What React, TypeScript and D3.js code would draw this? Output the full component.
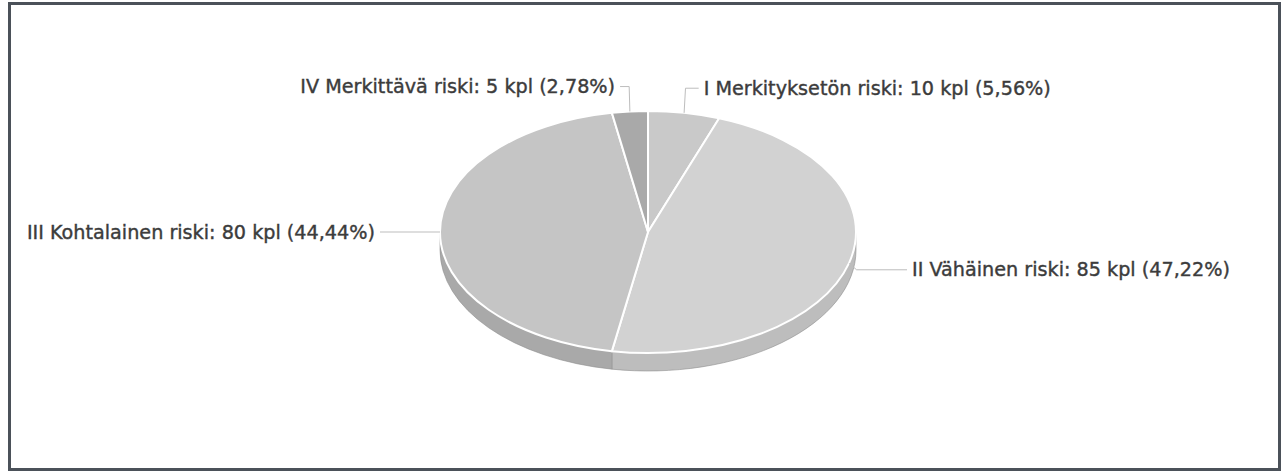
import React from "react";
import * as d3 from "d3";

// risk classes and their counts (kpl)
const categories = [
  "I Merkityksetön riski",
  "II Vähäinen riski",
  "III Kohtalainen riski",
  "IV Merkittävä riski",
];
const counts = [10, 85, 80, 5];
const topColors = ["#c9c9c9", "#d2d2d2", "#c5c5c5", "#a9a9a9"];
const sideColors = ["#b4b4b4", "#bdbdbd", "#a9a9a9", "#959595"];

const W = 1283;
const H = 473;
const CX = 648;
const CY = 232;
const RX = 208;
const RY = 121;
const DEPTH = 18;

const fmtPct = (v: number) => d3.format(".2f")(v).replace(".", ",");

const App = () => {
  const total = d3.sum(counts);
  const pie = d3.pie<number>().sort(null).value((d) => d);
  const arcs = pie(counts);
  const arcGen = d3
    .arc<d3.PieArcDatum<number>>()
    .innerRadius(0)
    .outerRadius(RX);

  // point on the tilted ellipse for a pie angle (0 = top, clockwise)
  const pt = (a: number, rx = RX, ry = RY) => [rx * Math.sin(a), -ry * Math.cos(a)];

  const sides = arcs.map((d, i) => {
    const s = Math.max(d.startAngle, Math.PI / 2);
    const e = Math.min(d.endAngle, (3 * Math.PI) / 2);
    if (s >= e) return null;
    const [x0, y0] = pt(s);
    const [x1, y1] = pt(e);
    const big = e - s > Math.PI ? 1 : 0;
    const p =
      `M${x0},${y0} A${RX},${RY} 0 ${big} 1 ${x1},${y1}` +
      ` L${x1},${y1 + DEPTH} A${RX},${RY} 0 ${big} 0 ${x0},${y0 + DEPTH} Z`;
    return <path key={"s" + i} d={p} fill={sideColors[i]} stroke="#8e8e8e" strokeWidth={0.6} />;
  });

  const labels = arcs.map((d, i) => {
    const mid = (d.startAngle + d.endAngle) / 2;
    const sign = Math.sin(mid) >= 0 ? 1 : -1;
    const [ex, ey] = pt(mid);
    const ly = -(RY + 25) * Math.cos(mid);
    const lx = (RX + 55) * Math.sin(mid) + sign * 10;
    const bx = (RX + 8) * Math.sin(mid);
    const text = `${categories[i]}: ${counts[i]} kpl (${fmtPct((counts[i] / total) * 100)}%)`;
    return (
      <g key={"l" + i}>
        <polyline
          points={`${ex},${ey} ${bx},${ly} ${lx - sign * 5},${ly}`}
          fill="none"
          stroke="#bdbdbd"
          strokeWidth={1}
        />
        <text
          x={lx}
          y={ly}
          dominantBaseline="central"
          textAnchor={sign > 0 ? "start" : "end"}
          fontFamily="'DejaVu Sans', Verdana, sans-serif"
          fontSize={19.2}
          fill="#3c3c3c"
          stroke="#3c3c3c"
          strokeWidth={0.4}
        >
          {text}
        </text>
      </g>
    );
  });

  return (
    <div style={{ position: "absolute", left: 0, top: 0 }}>
      <svg width={W} height={H} style={{ display: "block", background: "#fff" }}>
        <rect x={9.5} y={3.5} width={1270} height={466} fill="#fff" stroke="#4b5159" strokeWidth={3} />
        <g transform={`translate(${CX},${CY})`}>
          {sides}
          <g transform={`scale(1,${RY / RX})`}>
            {arcs.map((d, i) => (
              <path
                key={"t" + i}
                d={arcGen(d) || ""}
                fill={topColors[i]}
                stroke="#fff"
                strokeWidth={2}
                vectorEffect="non-scaling-stroke"
              />
            ))}
          </g>
          {labels}
        </g>
      </svg>
    </div>
  );
};

export default App;
